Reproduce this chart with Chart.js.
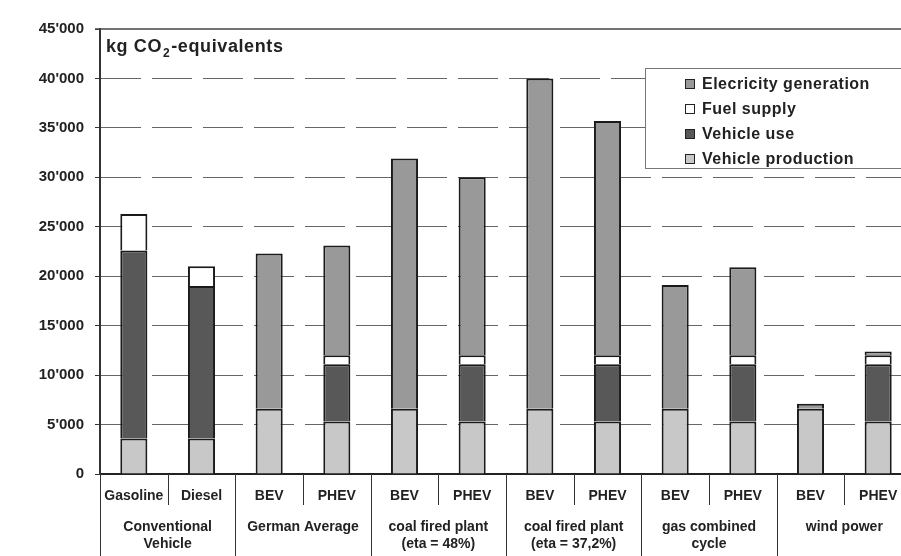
<!DOCTYPE html>
<html>
<head>
<meta charset="utf-8">
<script src="https://cdn.jsdelivr.net/npm/chart.js@4.4.1/dist/chart.umd.min.js"></script>
<style>
    html, body { margin: 0; padding: 0; background: #fff; overflow: hidden; }
    #wrap { width: 912px; height: 556px; position: relative; }
</style>
</head>
<body>
<div id="wrap"><canvas id="chart"></canvas></div>
<script>
const categories = ['Gasoline', 'Diesel', 'BEV', 'PHEV', 'BEV', 'PHEV', 'BEV', 'PHEV', 'BEV', 'PHEV', 'BEV', 'PHEV'];
const groupLabels = [
    ['Conventional', 'Vehicle'],
    ['German Average'],
    ['coal fired plant', '(eta = 48%)'],
    ['coal fired plant', '(eta = 37,2%)'],
    ['gas combined', 'cycle'],
    ['wind power']
];

// kg CO2-equivalents, stacked bottom to top
const vehicleProduction = [3600, 3600, 6600, 5300, 6600, 5300, 6600, 5300, 6600, 5300, 6600, 5300];
const vehicleUse = [19000, 15400, null, 5800, null, 5800, null, 5800, null, 5800, null, 5800];
const fuelSupply = [3700, 2000, null, 900, null, 900, null, 900, null, 900, null, 900];
const electricityGeneration = [null, null, 15700, 11100, 25300, 18000, 33400, 23700, 12500, 8900, 500, 400];

const yMax = 45000;
const yStep = 5000;

const fmt = (v) => String(v).replace(/\B(?=(\d{3})+(?!\d))/g, "'");

const FONT = '"Liberation Sans", Arial, sans-serif';
const TEXT = '#222';

const extras = {
    id: 'extras',
    afterDraw(chart) {
        const { ctx, chartArea: a, scales: { x } } = chart;
        const w = (a.right - a.left) / categories.length;
        ctx.save();

        // solid top line of the plot
        ctx.strokeStyle = '#444';
        ctx.lineWidth = 1.5;
        ctx.beginPath();
        ctx.moveTo(a.left - 5, a.top);
        ctx.lineTo(a.right, a.top);
        ctx.stroke();

        // category separators below the axis
        ctx.strokeStyle = '#333';
        ctx.lineWidth = 1;
        for (let i = 0; i < categories.length; i++) {
            const xx = Math.round(x.getPixelForValue(i) - w / 2) + 0.5;
            const bottom = i % 2 === 0 ? chart.height : a.bottom + 31;
            ctx.beginPath();
            ctx.moveTo(xx, a.bottom);
            ctx.lineTo(xx, bottom);
            ctx.stroke();
        }

        // group labels
        ctx.fillStyle = TEXT;
        ctx.font = 'bold 14px ' + FONT;
        ctx.textAlign = 'center';
        ctx.textBaseline = 'middle';
        groupLabels.forEach((lines, g) => {
            const cx = (x.getPixelForValue(g * 2) + x.getPixelForValue(g * 2 + 1)) / 2;
            lines.forEach((t, j) => ctx.fillText(t, cx, a.bottom + 53 + j * 17));
        });

        // title with subscript
        ctx.textAlign = 'left';
        ctx.textBaseline = 'alphabetic';
        ctx.letterSpacing = '0.6px';
        let tx = a.left + 6;
        ctx.font = 'bold 18px ' + FONT;
        ctx.fillText('kg CO', tx, 52);
        tx += ctx.measureText('kg CO').width + 1;
        ctx.font = 'bold 12px ' + FONT;
        ctx.fillText('2', tx, 57);
        tx += ctx.measureText('2').width + 1;
        ctx.font = 'bold 18px ' + FONT;
        ctx.fillText('-equivalents', tx, 52);

        // legend box
        const lx = 645.5, ly = 68.5;
        ctx.fillStyle = '#fff';
        ctx.fillRect(lx, ly, 300, 100);
        ctx.strokeStyle = '#777';
        ctx.lineWidth = 1;
        ctx.strokeRect(lx, ly, 300, 100);
        ctx.font = 'bold 16px ' + FONT;
        ctx.letterSpacing = '0.5px';
        ctx.textBaseline = 'middle';
        const items = chart.data.datasets.slice().reverse();
        items.forEach((ds, i) => {
            const cy = 84 + i * 25;
            ctx.fillStyle = ds.backgroundColor;
            ctx.fillRect(685.5, cy - 4.5, 9, 9);
            ctx.strokeStyle = '#222';
            ctx.strokeRect(685.5, cy - 4.5, 9, 9);
            ctx.fillStyle = TEXT;
            ctx.fillText(ds.label, 702, cy + 1);
        });
        ctx.letterSpacing = '0px';

        ctx.restore();
    }
};

const barStyle = {
    borderColor: '#1a1a1a',
    borderWidth: 2,
    barPercentage: 0.4,
    categoryPercentage: 1
};

const ele = document.getElementById('chart');
new Chart(ele.getContext('2d'), {
    type: 'bar',
    data: {
        labels: categories,
        datasets: [
            { label: 'Vehicle production', data: vehicleProduction, backgroundColor: '#c8c8c8', ...barStyle },
            { label: 'Vehicle use', data: vehicleUse, backgroundColor: '#585858', ...barStyle },
            { label: 'Fuel supply', data: fuelSupply, backgroundColor: '#ffffff', ...barStyle },
            { label: 'Elecricity generation', data: electricityGeneration, backgroundColor: '#999999', ...barStyle }
        ]
    },
    options: {
        responsive: true,
        maintainAspectRatio: false,
        animation: false,
        layout: {
            padding: { top: 29, left: 0, right: 0, bottom: 0 }
        },
        plugins: {
            legend: { display: false },
            tooltip: { enabled: false }
        },
        scales: {
            x: {
                stacked: true,
                afterFit: (scale) => { scale.height = 82; },
                grid: { display: false, drawTicks: false },
                border: { display: true, color: '#222', width: 2 },
                ticks: {
                    color: TEXT,
                    padding: 14,
                    maxRotation: 0,
                    autoSkip: false,
                    font: { family: FONT, size: 14, weight: 'bold' }
                }
            },
            y: {
                stacked: true,
                min: 0,
                max: yMax,
                afterFit: (scale) => { scale.width = 100; },
                grid: {
                    color: (c) => (c.tick && (c.tick.value === yMax || c.tick.value === 0)) ? 'rgba(0,0,0,0)' : '#666',
                    lineWidth: 1,
                    tickLength: 5,
                    tickColor: '#333'
                },
                border: { display: true, color: '#333', width: 2, dash: [40, 11] },
                ticks: {
                    stepSize: yStep,
                    color: TEXT,
                    padding: 11,
                    font: { family: FONT, size: 15, weight: 'bold' },
                    callback: (value) => fmt(value)
                }
            }
        }
    },
    plugins: [extras]
});
</script>
</body>
</html>
